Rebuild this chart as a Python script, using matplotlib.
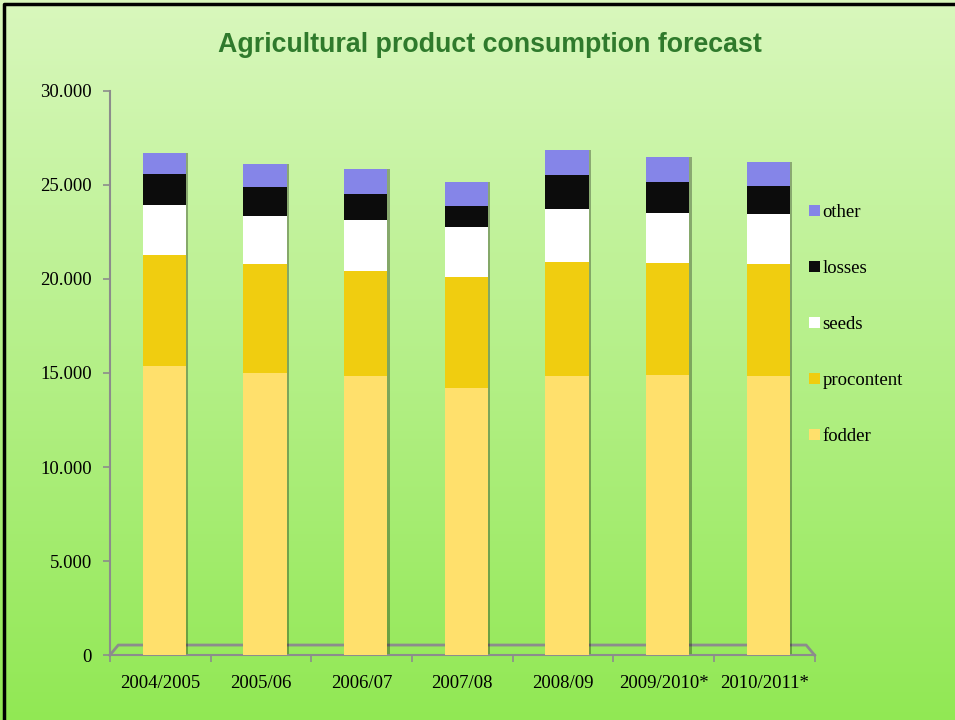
import numpy as np
import matplotlib
matplotlib.use("Agg")
import matplotlib.pyplot as plt
from matplotlib.ticker import FuncFormatter, FixedLocator

# data
years = ["2004/2005", "2005/06", "2006/07", "2007/08", "2008/09", "2009/2010*", "2010/2011*"]
fodder = [15370, 14980, 14840, 14200, 14840, 14870, 14840]
procontent = [5910, 5820, 5600, 5910, 6080, 6000, 5940]
seeds = [2660, 2530, 2680, 2660, 2780, 2640, 2660]
losses = [1650, 1540, 1400, 1110, 1800, 1650, 1510]
other = [1110, 1250, 1310, 1280, 1360, 1340, 1240]

series = [("fodder", fodder, "#ffe06c"),
          ("procontent", procontent, "#f0cd10"),
          ("seeds", seeds, "#ffffff"),
          ("losses", losses, "#0c0c0c"),
          ("other", other, "#8585e8")]

fig = plt.figure(figsize=(9.55, 7.2), dpi=100)

# background gradient
bg = fig.add_axes([0, 0, 1, 1], zorder=-10)
grad = np.linspace(0, 1, 256).reshape(-1, 1)
top = np.array([0.85, 0.97, 0.74])
bot = np.array([0.57, 0.91, 0.33])
img = top + (bot - top) * grad[:, :, None]
bg.imshow(img, aspect="auto", extent=[0, 1, 0, 1])
bg.set_axis_off()
# black frame
bg.plot([0.004, 0.004, 1], [0, 0.994, 0.994], color="black", lw=2.5, transform=bg.transAxes)

ax = fig.add_axes([0.115, 0.090, 0.738, 0.784])
ax.patch.set_alpha(0)

x = np.arange(len(years))
xb = x + 0.04
bottom = np.zeros(len(years))
handles = []
for name, vals, col in series:
    vals = np.array(vals)
    h = ax.bar(xb, vals, 0.43, bottom=bottom, color=col, label=name, zorder=3)
    # thin shadow on the right edge for the 3D look
    ax.bar(xb + 0.215 + 0.012, vals, 0.024, bottom=bottom, color="black", alpha=0.3, zorder=2)
    handles.append(h)
    bottom += vals

ax.set_xlim(-0.5, len(years) - 0.5)
ax.set_ylim(0, 30000)
ax.set_yticks(np.arange(0, 30001, 5000))
ax.yaxis.set_major_formatter(FuncFormatter(lambda v, p: "0" if v == 0 else f"{v/1000:.3f}"))
ax.set_xticks(x)
ax.set_xticklabels(years)
ax.xaxis.set_minor_locator(FixedLocator(np.arange(-0.5, len(years), 1.0)))
ax.tick_params(axis="x", which="major", length=0, pad=14)
ax.tick_params(axis="x", which="minor", length=5, color="#8c8c8c", width=1.2)
ax.tick_params(axis="y", length=5, color="#8c8c8c", width=1.2, pad=8)

for lab in ax.get_xticklabels() + ax.get_yticklabels():
    lab.set_fontfamily("Liberation Serif")
    lab.set_fontsize(13.5)

for s in ["top", "right"]:
    ax.spines[s].set_visible(False)
ax.spines["left"].set_color("#8c8c8c")
ax.spines["bottom"].set_color("#8c8c8c")
ax.spines["left"].set_linewidth(1.5)
ax.spines["bottom"].set_linewidth(1.5)

# 3D floor edge
ax.plot([0.0, 0.012, 0.988, 1.0], [0.0, 0.018, 0.018, 0.0], color="#8c8c8c", lw=2,
        transform=ax.transAxes, zorder=1, clip_on=False)

# legend
leg_handles = handles[::-1]
leg = fig.legend(leg_handles, [s[0] for s in series][::-1], loc="upper left",
                 bbox_to_anchor=(0.829, 0.740), frameon=False, handlelength=0.6,
                 handleheight=0.6, handletextpad=0.15, labelspacing=2.08,
                 prop={"family": "Liberation Serif", "size": 13.5})

fig.text(0.513, 0.937, "Agricultural product consumption forecast", ha="center", va="center",
         fontsize=19.3, fontweight="bold", color="#2f7a2c", family="Liberation Sans")

fig.savefig("out.png", dpi=100)
